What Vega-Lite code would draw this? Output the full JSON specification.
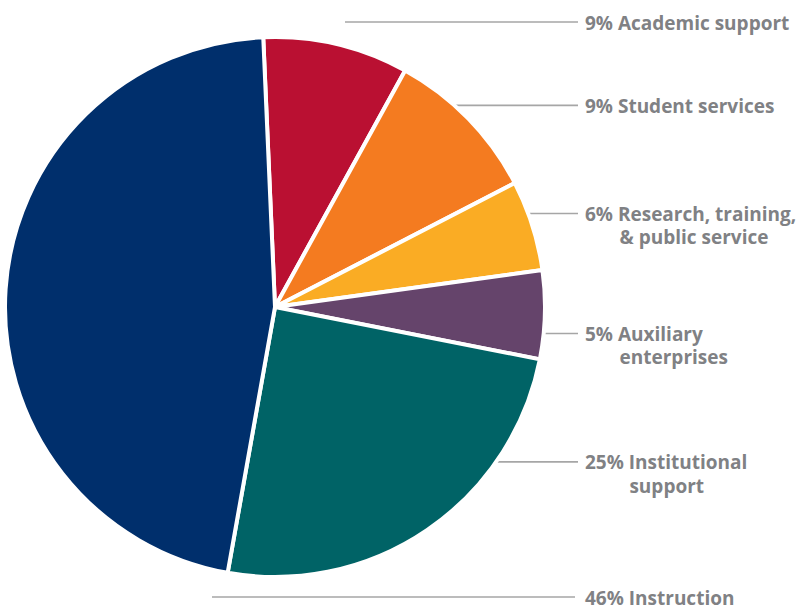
{
  "$schema": "https://vega.github.io/schema/vega-lite/v6.json",
  "width": 800,
  "height": 609,
  "padding": 0,
  "autosize": {"type": "none"},
  "background": "white",
  "config": {"view": {"stroke": null}},
  "data": {
    "values": [
      {"rank": 0, "category": "Academic support", "value": 8.7, "label": "9% Academic support"},
      {"rank": 1, "category": "Student services", "value": 9.4, "label": "9% Student services"},
      {"rank": 2, "category": "Research, training, & public service", "value": 5.4, "label": "6% Research, training,\n\u200b\u00a0\u00a0\u00a0\u00a0\u00a0\u00a0\u00a0& public service"},
      {"rank": 3, "category": "Auxiliary enterprises", "value": 5.3, "label": "5% Auxiliary\n\u200b\u00a0\u00a0\u00a0\u00a0\u00a0\u00a0\u00a0enterprises"},
      {"rank": 4, "category": "Institutional support", "value": 24.7, "label": "25% Institutional\n\u200b\u00a0\u00a0\u00a0\u00a0\u00a0\u00a0\u00a0\u00a0\u00a0support"},
      {"rank": 5, "category": "Instruction", "value": 46.5, "label": "46% Instruction"}
    ]
  },
  "layer": [
    {
      "transform": [{"filter": "datum.rank < 5"}],
      "mark": {"type": "rule", "color": "#A6A6A6", "strokeWidth": 1.6},
      "encoding": {
        "y": {"field": "rank", "type": "quantitative", "scale": {"type": "pow", "exponent": 1.2, "domain": [0, 5], "range": [22, 597], "nice": false, "zero": false}, "axis": null},
        "x": {"value": 578},
        "x2": {"value": 345}
      }
    },
    {
      "transform": [{"filter": "datum.rank == 5"}],
      "mark": {"type": "rule", "color": "#A6A6A6", "strokeWidth": 1.6},
      "encoding": {
        "y": {"field": "rank", "type": "quantitative", "scale": {"type": "pow", "exponent": 1.2, "domain": [0, 5], "range": [22, 597], "nice": false, "zero": false}, "axis": null},
        "x": {"value": 575},
        "x2": {"value": 212}
      }
    },
    {
      "mark": {"type": "arc", "x": 275, "y": 307, "outerRadius": 270, "stroke": "white", "strokeWidth": 4},
      "encoding": {
        "theta": {"field": "value", "type": "quantitative", "stack": true, "scale": {"range": [-0.0436, 6.2396], "nice": false}},
        "order": {"field": "rank", "type": "quantitative"},
        "color": {
          "field": "category",
          "type": "nominal",
          "scale": {
            "domain": ["Academic support", "Student services", "Research, training, & public service", "Auxiliary enterprises", "Institutional support", "Instruction"],
            "range": ["#BA1032", "#F47B20", "#FAAC24", "#65446B", "#006366", "#002F6C"]
          },
          "legend": null
        }
      }
    },
    {
      "mark": {"type": "text", "align": "left", "baseline": "alphabetic", "dy": 7.5, "x": 585, "font": "Open Sans", "fontWeight": "bold", "fontSize": 19, "lineBreak": "\n", "lineHeight": 23.5, "color": "#808184"},
      "encoding": {
        "y": {"field": "rank", "type": "quantitative", "scale": {"type": "pow", "exponent": 1.2, "domain": [0, 5], "range": [22, 597], "nice": false, "zero": false}, "axis": null},
        "text": {"field": "label"}
      }
    }
  ]
}
